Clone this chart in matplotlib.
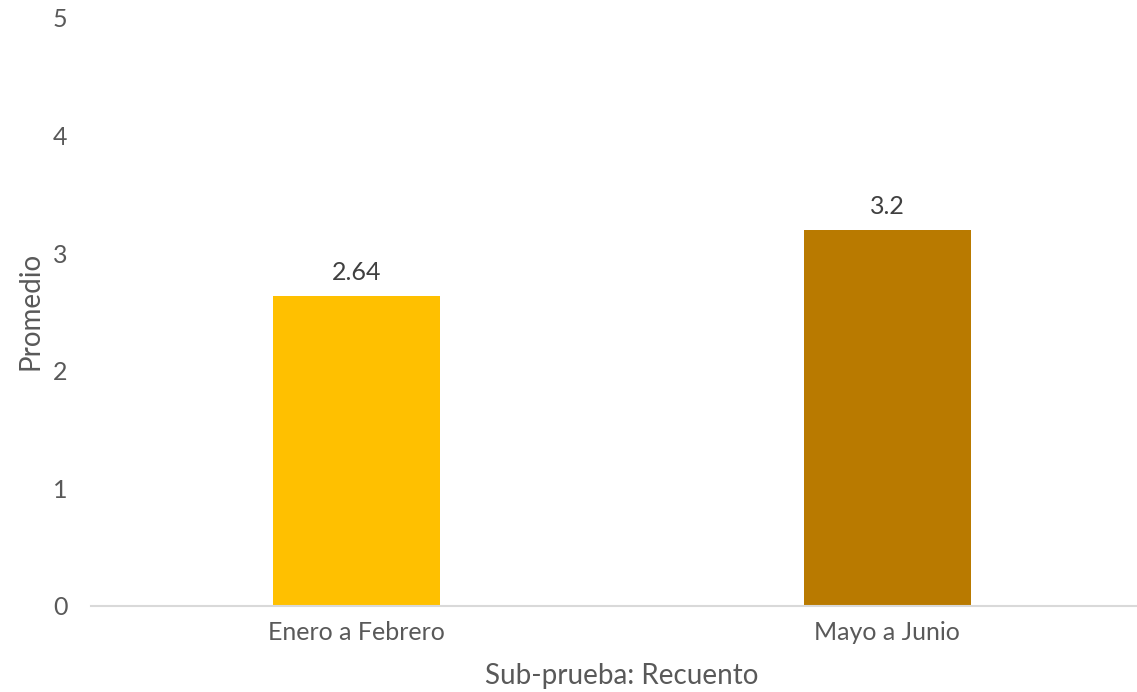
import matplotlib
matplotlib.use("Agg")
import matplotlib.pyplot as plt

categories = ["Enero a Febrero", "Mayo a Junio"]
values = [2.64, 3.2]
value_labels = ["2.64", "3.2"]
colors = ["#FFC000", "#B97A00"]
yticks = [0, 1, 2, 3, 4, 5]

plt.rcParams['font.family'] = ['Lato', 'DejaVu Sans']
txt = "#595959"

fig = plt.figure(figsize=(11.37, 6.92), dpi=100)
ax = fig.add_axes([0.080, 0.1243, 0.934, 0.8497])
x = range(len(categories))
bars = ax.bar(x, values, width=0.315, color=colors)
for b, lab in zip(bars, value_labels):
    ax.text(b.get_x() + b.get_width() / 2, b.get_height() + 0.1, lab,
            ha='center', va='bottom', fontsize=18, color="#404040")
ax.set_xlim(-0.5, 1.5)
ax.set_ylim(0, 5)
ax.set_yticks(yticks)
ax.set_xticks(list(x))
ax.set_xticklabels(categories)
for s in ['top', 'right', 'left']:
    ax.spines[s].set_visible(False)
ax.spines['bottom'].set_color("#D9D9D9")
ax.spines['bottom'].set_linewidth(1.5)
ax.tick_params(axis='both', length=0, labelsize=18, colors=txt)
ax.tick_params(axis='y', pad=17)
ax.tick_params(axis='x', pad=11)
ax.set_ylabel("Promedio", fontsize=20, color=txt, va='center')
ax.set_xlabel("Sub-prueba: Recuento", fontsize=20, color=txt, va='center')
ax.yaxis.set_label_coords(-0.0565, 0.502)
ax.xaxis.set_label_coords(0.5, -0.119)
fig.savefig("out.png", dpi=100)
